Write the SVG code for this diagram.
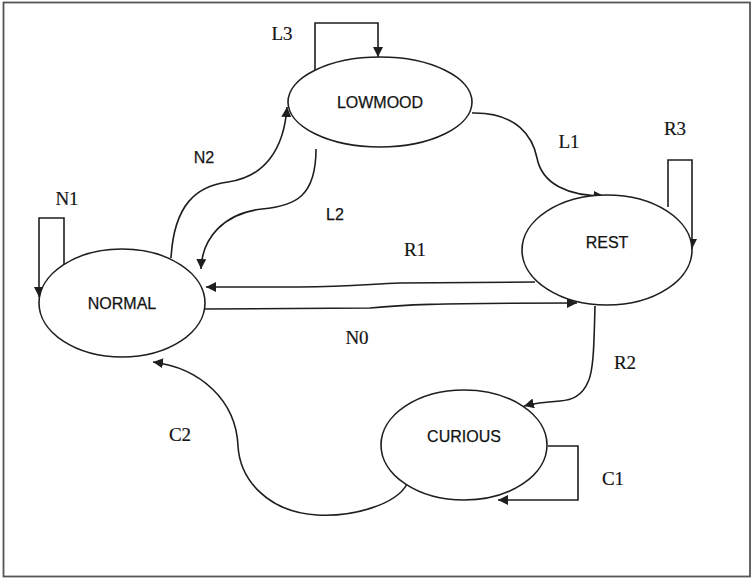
<svg xmlns="http://www.w3.org/2000/svg" width="753" height="579" viewBox="0 0 753 579">
  <style>
    .state { fill: #ffffff; stroke: #1e1e1e; stroke-width: 1.6; }
    .name { font-family: "Liberation Sans", Arial, sans-serif; font-size: 16px; fill: #141414; stroke: #141414; stroke-width: 0.25; text-anchor: middle; }
    .edge { fill: none; stroke: #1e1e1e; stroke-width: 1.6; marker-end: url(#arrow); }
    .tag { font-family: "Liberation Serif", "Times New Roman", serif; font-size: 19px; fill: #141414; stroke: #141414; stroke-width: 0.2; text-anchor: middle; }
    .tag-sans { font-family: "Liberation Sans", Arial, sans-serif; font-size: 16px; fill: #141414; stroke: #141414; stroke-width: 0.25; text-anchor: middle; }
  </style>
  <defs>
    <marker id="arrow" viewBox="0 0 10 10" refX="10" refY="5" markerWidth="10" markerHeight="10" markerUnits="userSpaceOnUse" orient="auto">
      <path d="M0,0 L10,5 L0,10 Z" fill="#1e1e1e"/>
    </marker>
  </defs>

  <!-- outer frame -->
  <rect x="3.5" y="2.5" width="746.5" height="574" fill="#ffffff" stroke="#555555" stroke-width="1.8"/>

  <!-- connectors -->
  <g id="connectors">
    <!-- N1: NORMAL self loop -->
    <path class="edge" d="M64,267 L64,218 L39,218 L39,297"/>
    <!-- L3: LOWMOOD self loop -->
    <path class="edge" d="M315,70 L315,23 L378,23 L378,57"/>
    <!-- R3: REST self loop -->
    <path class="edge" d="M668,207 L668,160 L692,160 L692,249"/>
    <!-- C1: CURIOUS self loop -->
    <path class="edge" d="M548,446 L578,446 L578,500 L498,500"/>
    <!-- N2: NORMAL to LOWMOOD -->
    <path class="edge" d="M171,258 C174,205 196,186 228,182 C264,177 284,150 287,107"/>
    <!-- L2: LOWMOOD to NORMAL -->
    <path class="edge" d="M316,149 C316,196 296,206 262,209 C224,213 202,238 201,269"/>
    <!-- L1: LOWMOOD to REST -->
    <path class="edge" d="M472,113 C518,112 533,138 537,158 C542,184 568,196 604,196"/>
    <!-- R1: REST to NORMAL -->
    <path class="edge" d="M535,282 L400,283 C370,284 350,287 300,287 L206,287"/>
    <!-- N0: NORMAL to REST -->
    <path class="edge" d="M203,309 L370,308 C400,305 430,303 577,303"/>
    <!-- R2: REST to CURIOUS -->
    <path class="edge" d="M595,306 C594,340 594,370 588,382 C582,396 572,400 560,401 C545,402 535,403 524,406"/>
    <!-- C2: CURIOUS to NORMAL -->
    <path class="edge" d="M407,484 C396,505 352,517 317,515 C268,512 240,480 238,446 C236,400 200,368 153,362"/>
  </g>

  <!-- states -->
  <g id="normal">
    <ellipse class="state" cx="122" cy="303" rx="83" ry="54"/>
    <text class="name" x="122" y="309">NORMAL</text>
  </g>
  <g id="lowmood">
    <ellipse class="state" cx="380" cy="102" rx="92" ry="45"/>
    <text class="name" x="380" y="108">LOWMOOD</text>
  </g>
  <g id="rest">
    <ellipse class="state" cx="607" cy="250" rx="85" ry="55"/>
    <text class="name" x="607" y="248">REST</text>
  </g>
  <g id="curious">
    <ellipse class="state" cx="464" cy="445" rx="83" ry="55"/>
    <text class="name" x="464" y="442">CURIOUS</text>
  </g>

  <!-- transition labels -->
  <g id="labels">
    <text class="tag" x="67" y="205">N1</text>
    <text class="tag" x="282" y="40">L3</text>
    <text class="tag-sans" x="204" y="163">N2</text>
    <text class="tag-sans" x="335" y="220">L2</text>
    <text class="tag" x="569" y="148">L1</text>
    <text class="tag" x="675" y="135">R3</text>
    <text class="tag" x="415" y="256">R1</text>
    <text class="tag" x="357" y="344">N0</text>
    <text class="tag" x="625" y="369">R2</text>
    <text class="tag" x="613" y="485">C1</text>
    <text class="tag" x="180" y="441">C2</text>
  </g>
</svg>
